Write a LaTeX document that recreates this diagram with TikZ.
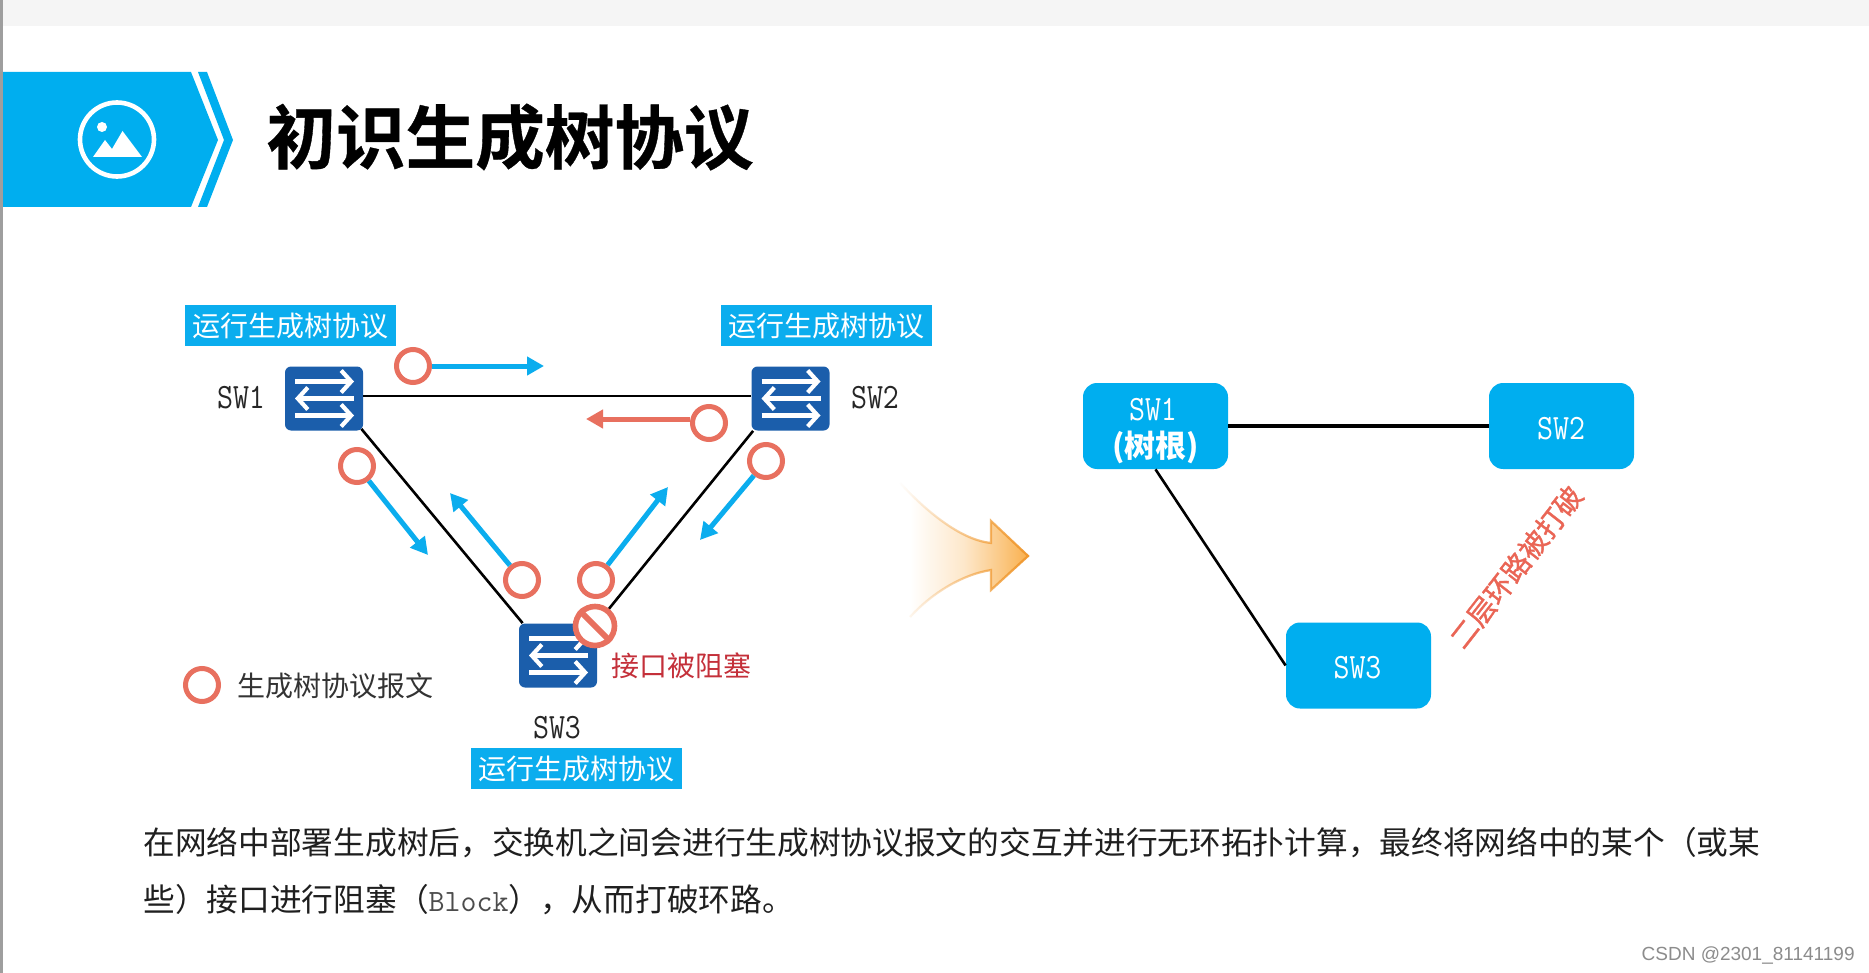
\documentclass[tikz,border=0pt]{standalone}
\usepackage{fontspec}
\usetikzlibrary{arrows.meta,fadings,shapes.geometric}
\setmainfont{Noto Sans CJK SC}
\newfontfamily\cjk{Noto Sans CJK SC}
\newfontfamily\cjkheavy[FakeBold=1.2]{Noto Sans CJK SC}
\newfontfamily\cjktitle[FakeBold=0.5]{Noto Sans CJK SC Bold}
\definecolor{skyb}{HTML}{0BADEE}
\definecolor{boxb}{HTML}{00AEEF}
\definecolor{swb}{HTML}{1B5EAB}
\definecolor{ringc}{HTML}{E8705F}
\definecolor{orng}{HTML}{F9B04E}
\definecolor{orngl}{HTML}{F0982E}
\definecolor{blkred}{HTML}{C4303A}
\newcommand\fs[1]{\fontsize{#1}{#1}\selectfont}
\newcommand\monobold{\ttfamily\addfontfeature{FakeBold=0.5}}
\pgfdeclarehorizontalshading{tailshade}{100bp}{color(0bp)=(white);color(29bp)=(white);color(50bp)=(orng!30!white);color(63bp)=(orng!65!white);color(75bp)=(orng);color(100bp)=(orng)}
\tikzfading[name=tailfade,left color=transparent!100,middle color=transparent!80,right color=transparent!0]
\tikzset{
  x=0.5pt,y=-0.5pt,
  bluelabel/.style={fill=skyb,text=white,minimum width=105.5pt,minimum height=20.5pt,inner sep=0pt,font=\fs{14}},
  swnode/.style={fill=swb,rounded corners=3pt,minimum width=39pt,minimum height=32pt,inner sep=0pt},
  ring/.style={circle,draw=ringc,line width=2.5pt,fill=white,minimum size=16.5pt,inner sep=0pt},
  msg/.style={draw=skyb,line width=2.5pt,-{Triangle[length=8.5pt,width=9pt]}},
  msgred/.style={draw=ringc,line width=2.5pt,-{Triangle[length=8.5pt,width=9pt]}},
  link/.style={draw=black,line width=1.3pt},
  monolabel/.style={font=\monobold\fs{15.5},text=black!85,inner sep=0pt,yscale=1.15,transform shape},
  treebox/.style={fill=boxb,rounded corners=7pt,minimum width=72.5pt,minimum height=43pt,inner sep=0pt},
  treetext/.style={font=\monobold\fs{15.5},text=white,inner sep=0pt,yscale=1.15,transform shape},
  pics/swicon/.style={code={
    \draw[white,line width=2.1pt,-{Straight Barb[length=5pt,width=11pt,line width=2.1pt]}] (-29,-17) -- (30,-17);
    \draw[white,line width=2.1pt,-{Straight Barb[length=5pt,width=11pt,line width=2.1pt]}] (30,0) -- (-29,0);
    \draw[white,line width=2.1pt,-{Straight Barb[length=5pt,width=11pt,line width=2.1pt]}] (-29,17) -- (30,17);
  }}
}
\begin{document}
\begin{tikzpicture}
\useasboundingbox (0,0) rectangle (1869,973);
\fill[white] (0,0) rectangle (1869,973);
\fill[black!4!white] (0,0) rectangle (1869,26);
\fill[black!38] (0,0) rectangle (3,973);
% banner
\fill[boxb] (3,72) -- (191,72) -- (218,140) -- (191,207) -- (3,207) -- cycle;
\fill[boxb] (198,72) -- (207,72) -- (233,140) -- (207,207) -- (198,207) -- (224,140) -- cycle;
\draw[white,line width=2.3pt] (117,139.5) circle[radius=37];
\fill[white] (102,127) circle[radius=5];
\fill[white] (93,157) -- (105,140) -- (112,149) -- (122.5,131) -- (142,157) -- cycle;
\node[anchor=west,inner sep=0pt,font=\cjktitle\fs{34.8},text=black] (title) at (266,137) {初识生成树协议};
% left network
\node[swnode] (sw1) at (324,398.5) {};
\node[swnode] (sw2) at (790.5,398.5) {};
\node[swnode] (sw3) at (558,655.5) {};
\node[ring,line width=2.5pt,minimum size=19pt] (blk) at (595,626) {};
\draw[link] ([yshift=1.25pt]sw1.east) -- ([yshift=1.25pt]sw2.west);
\draw[link] ([xshift=-1pt,yshift=1pt]sw1.south east) -- ([xshift=2pt]sw3.north west);
\draw[link] ([xshift=1pt]sw2.south west) -- (blk);
\pic at (sw1) {swicon};
\pic at (sw2) {swicon};
\pic at (sw3) {swicon};
\node[bluelabel] (l1) at (290.5,325.5) {\raisebox{-0.5pt}{运行生成树协议}};
\node[bluelabel] (l2) at (826,325.5) {\raisebox{-0.5pt}{运行生成树协议}};
\node[bluelabel] (l3) at (576.5,768.5) {\raisebox{-0.5pt}{运行生成树协议}};
\node[monolabel] (t1) at (241,398) {SW1};
\node[monolabel] (t2) at (875,398) {SW2};
\node[monolabel] (t3) at (557,728) {SW3};
% messages
\node[ring] (c1) at (413,366) {};
\node[ring] (c2) at (709,423) {};
\node[ring] (c3) at (766,461) {};
\node[ring] (c4) at (357,466) {};
\node[ring] (c5) at (522,580) {};
\node[ring] (c6) at (596,580) {};
\coordinate (e1) at (544,366);
\coordinate (e2) at (586,419);
\coordinate (e3) at (428,555);
\coordinate (e4) at (450,493);
\coordinate (e5) at (668,487);
\coordinate (e6) at (700,540);
\draw[msg] (c1) -- (e1);
\draw[msgred] ([yshift=2pt]c2.west) -- (e2);
\draw[msg] (c4) -- (e3);
\draw[msg] (c5) -- (e4);
\draw[msg] (c6) -- (e5);
\draw[msg] (c3) -- (e6);
% blocked port
\node[ring,line width=2.8pt,minimum size=19.5pt] (blk2) at (595,626) {};
\draw[draw=ringc,line width=3pt] (blk2.north west) -- (blk2.south east);
\node[inner sep=0pt,font=\fs{14},text=blkred] (blktxt) at (681,665.5) {接口被阻塞};
% legend
\node[ring] (leg) at (202,685) {};
\node[anchor=west,inner sep=0pt,font=\fs{14},text=black!80] (legt) at (237,686) {生成树协议报文};
% big arrow
\shade[shading=tailshade] (900,483) .. controls (925,510) and (960,540) .. (991,543) -- (991,521) -- (1028,556) -- (991,590) -- (991,570) .. controls (960,575) and (930,595) .. (910,617) -- cycle;
\draw[orngl,line width=1.1pt,path fading=tailfade] (900,483) .. controls (925,510) and (960,540) .. (991,543) -- (991,521) -- (1028,556) -- (991,590) -- (991,570) .. controls (960,575) and (930,595) .. (910,617);
% right tree
\node[treebox] (r1) at (1155.5,426) {};
\node[treebox] (r2) at (1561.5,426) {};
\node[treebox] (r3) at (1358.5,665.5) {};
\draw[link,line width=1.6pt] (r1.east) -- (r2.west);
\draw[link] (r1.south) -- (r3.west);
\node[treetext] (rt1) at (1153,410) {SW1};
\node[inner sep=0pt,text=white,font=\bfseries\fs{15.5}] (rt1b) at (1155.5,447) {(树根)};
\node[treetext] (rt2) at (1561,429) {SW2};
\node[treetext] (rt3) at (1357.5,668) {SW3};
\node[rotate=52,inner sep=0pt,font=\cjkheavy\fs{14},text=ringc!90!red] (brk) at (1516,567) {二层环路被打破};
% body
\node[anchor=west,inner sep=0pt,font=\fs{15.85},text=black!88] (b1) at (143,843) {在网络中部署生成树后，交换机之间会进行生成树协议报文的交互并进行无环拓扑计算，最终将网络中的某个（或某};
\node[anchor=west,inner sep=0pt,font=\fs{15.85},text=black!88] (b2) at (143,900) {些）接口进行阻塞（{\ttfamily\fs{15.5}\color{black!70}Block}），从而打破环路。};
\node[anchor=east,inner sep=0pt,font=\fontspec{Liberation Sans}\fs{9.5},text=black!45] (wm) at (1855,955) {CSDN @2301\_81141199};
\end{tikzpicture}
\end{document}
